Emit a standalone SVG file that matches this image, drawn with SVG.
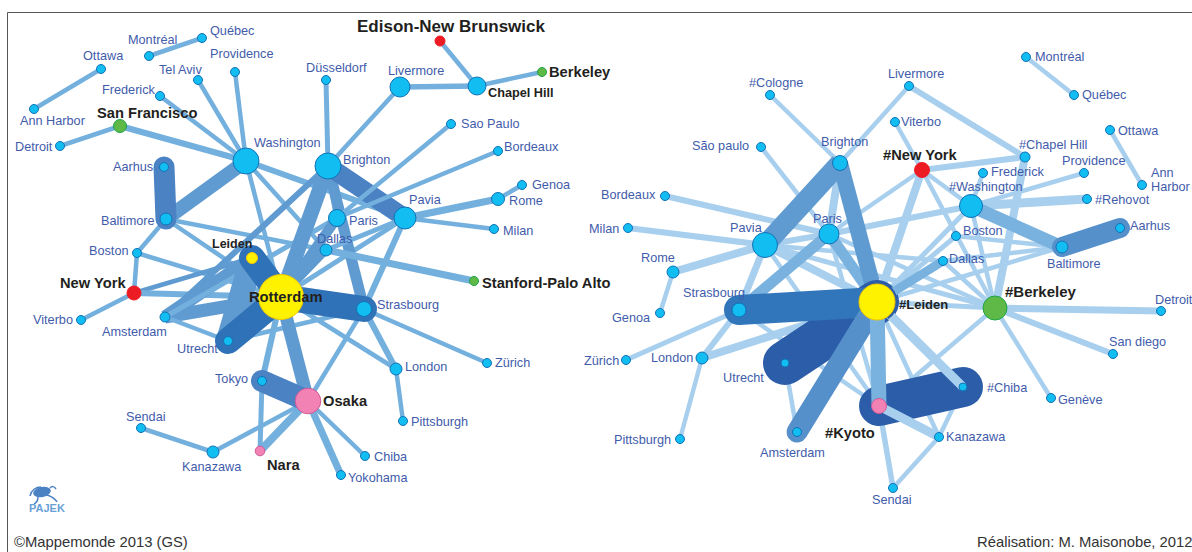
<svg xmlns="http://www.w3.org/2000/svg" width="1192" height="552" viewBox="0 0 1192 552">
<style>
text{font-family:"Liberation Sans",Arial,sans-serif}
.l{font-size:12.7px;fill:#3f5cab}
.b{font-weight:bold;fill:#231f20}
.c{font-size:14.8px;fill:#333}
line{stroke-linecap:butt}
.dk{stroke-linecap:round}
#edges-left line{stroke:#74b0de}
#edges-left .m{stroke:#5f9bd0}
#edges-left .s{stroke:#4a82c3}
#edges-left .dk{stroke:#3072b8}
#edges-right line{stroke:#a8d0ee}
#edges-right .n{stroke:#79b2de}
#edges-right .m{stroke:#5f9bd0}
#edges-right .s{stroke:#5690cb}
#edges-right .dk{stroke:#3175ba}
#edges-right .dk2{stroke:#2b5da9}
.city{fill:#12bdf2;stroke:#1272b6}
.y{fill:#fff200;stroke:#f3c800}
.r{fill:#ed1c24;stroke:#ed1c24}
.g{fill:#5fb946;stroke:#1ea34a}
.p{fill:#f282b4;stroke:#d05a9a}
</style>
<rect width="1192" height="552" fill="#fff"/>
<path d="M7.5 552V12.5H1192" fill="none" stroke="#555" stroke-width="1"/>
<g id="edges-left" stroke-width="4.5">
<line x1="149" y1="56" x2="202" y2="38"/>
<line x1="101" y1="69" x2="34" y2="109"/>
<line x1="60" y1="146" x2="120" y2="126"/>
<line x1="120" y1="126" x2="246" y2="161" stroke-width="6"/>
<line x1="160" y1="96" x2="246" y2="161"/>
<line x1="198" y1="80" x2="246" y2="161"/>
<line x1="235" y1="72" x2="246" y2="161"/>
<line x1="246" y1="161" x2="281" y2="297"/>
<line x1="246" y1="161" x2="405" y2="218" stroke-width="6"/>
<line x1="246" y1="161" x2="326" y2="250"/>
<line x1="246" y1="161" x2="166" y2="219" class="m" stroke-width="14"/>
<line x1="166" y1="219" x2="137" y2="253"/>
<line x1="166" y1="219" x2="326" y2="250"/>
<line x1="166" y1="219" x2="281" y2="297"/>
<line x1="137" y1="253" x2="134" y2="293"/>
<line x1="137" y1="253" x2="281" y2="297"/>
<line x1="134" y1="293" x2="81" y2="320"/>
<line x1="134" y1="293" x2="252" y2="258" class="m"/>
<line x1="134" y1="293" x2="281" y2="297" stroke-width="6"/>
<line x1="165" y1="317" x2="328" y2="166" class="m" stroke-width="6"/>
<line x1="165" y1="317" x2="252" y2="258" class="m" stroke-width="13"/>
<line x1="165" y1="317" x2="281" y2="297" class="m" stroke-width="13"/>
<line x1="165" y1="317" x2="228" y2="341"/>
<line x1="165" y1="317" x2="337" y2="218" stroke-width="5"/>
<line x1="252" y1="258" x2="228" y2="341" class="m" stroke-width="24"/>
<line x1="228" y1="341" x2="364" y2="309"/>
<line x1="281" y1="297" x2="328" y2="166" class="m" stroke-width="15"/>
<line x1="281" y1="297" x2="337" y2="218" class="m" stroke-width="10"/>
<line x1="281" y1="297" x2="326" y2="250" class="m" stroke-width="8"/>
<line x1="281" y1="297" x2="405" y2="218" stroke-width="5"/>
<line x1="281" y1="297" x2="396" y2="369"/>
<line x1="281" y1="297" x2="262" y2="381" stroke-width="6"/>
<line x1="281" y1="297" x2="308" y2="401" class="m" stroke-width="13"/>
<line x1="328" y1="166" x2="400" y2="87"/>
<line x1="328" y1="166" x2="326" y2="80" stroke-width="5"/>
<line x1="328" y1="166" x2="337" y2="218" stroke-width="6"/>
<line x1="328" y1="166" x2="364" y2="309" class="m" stroke-width="11"/>
<line x1="328" y1="166" x2="405" y2="218" class="s" stroke-width="19"/>
<line x1="400" y1="87" x2="477" y2="86" stroke-width="5.5"/>
<line x1="440" y1="41" x2="477" y2="86"/>
<line x1="477" y1="86" x2="542" y2="72" stroke-width="4.5"/>
<line x1="337" y1="218" x2="451" y2="124"/>
<line x1="337" y1="218" x2="498" y2="151"/>
<line x1="326" y1="250" x2="405" y2="218" stroke-width="5"/>
<line x1="326" y1="250" x2="474" y2="281" stroke-width="7"/>
<line x1="405" y1="218" x2="498" y2="199" stroke-width="7"/>
<line x1="405" y1="218" x2="494" y2="229"/>
<line x1="498" y1="199" x2="522" y2="185"/>
<line x1="405" y1="218" x2="364" y2="309" stroke-width="6"/>
<line x1="364" y1="309" x2="308" y2="401"/>
<line x1="364" y1="309" x2="396" y2="369" stroke-width="6"/>
<line x1="364" y1="309" x2="487" y2="363"/>
<line x1="396" y1="369" x2="403" y2="421"/>
<line x1="262" y1="381" x2="260" y2="451" stroke-width="5"/>
<line x1="308" y1="401" x2="260" y2="451" stroke-width="8"/>
<line x1="308" y1="401" x2="213" y2="452"/>
<line x1="308" y1="401" x2="365" y2="456"/>
<line x1="308" y1="401" x2="341" y2="475" stroke-width="7"/>
<line x1="141" y1="428" x2="213" y2="452"/>
<line x1="164" y1="167" x2="166" y2="219" class="s" stroke-width="21" style="stroke-linecap:round"/>
<line x1="262" y1="381" x2="308" y2="401" class="s" stroke-width="22" style="stroke-linecap:round"/>
<line x1="252" y1="258" x2="281" y2="297" class="dk" stroke-width="26"/>
<line x1="228" y1="341" x2="281" y2="297" class="dk" stroke-width="26"/>
<line x1="281" y1="297" x2="364" y2="309" class="dk" stroke-width="26"/>
</g>
<g id="edges-right" stroke-width="4.5">
<line x1="1026" y1="57" x2="1074" y2="95"/>
<line x1="1110" y1="130" x2="1142" y2="185"/>
<line x1="909" y1="86" x2="840" y2="163"/>
<line x1="909" y1="86" x2="1025" y2="157" stroke-width="6"/>
<line x1="895" y1="122" x2="922" y2="170"/>
<line x1="770" y1="95" x2="840" y2="163"/>
<line x1="761" y1="147" x2="829" y2="234"/>
<line x1="922" y1="170" x2="1025" y2="157" stroke-width="6"/>
<line x1="922" y1="170" x2="829" y2="234"/>
<line x1="922" y1="170" x2="877" y2="302" stroke-width="8"/>
<line x1="922" y1="170" x2="971" y2="206"/>
<line x1="922" y1="170" x2="995" y2="308"/>
<line x1="1025" y1="157" x2="995" y2="308" stroke-width="8"/>
<line x1="983" y1="173" x2="971" y2="206"/>
<line x1="971" y1="206" x2="1084" y2="173"/>
<line x1="971" y1="206" x2="1087" y2="199" stroke-width="9"/>
<line x1="971" y1="206" x2="829" y2="234" stroke-width="6"/>
<line x1="971" y1="206" x2="877" y2="302" stroke-width="5"/>
<line x1="971" y1="206" x2="995" y2="308"/>
<line x1="956" y1="236" x2="1062" y2="247"/>
<line x1="956" y1="236" x2="877" y2="302" stroke-width="5"/>
<line x1="943" y1="261" x2="1062" y2="247"/>
<line x1="943" y1="261" x2="995" y2="308"/>
<line x1="765" y1="245" x2="943" y2="261"/>
<line x1="877" y1="302" x2="1062" y2="247"/>
<line x1="665" y1="196" x2="829" y2="234" stroke-width="6"/>
<line x1="628" y1="228" x2="765" y2="245" stroke-width="6"/>
<line x1="673" y1="272" x2="765" y2="245" stroke-width="8"/>
<line x1="673" y1="272" x2="660" y2="313"/>
<line x1="765" y1="245" x2="829" y2="234" stroke-width="6"/>
<line x1="765" y1="245" x2="877" y2="302" stroke-width="8"/>
<line x1="765" y1="245" x2="739" y2="310" stroke-width="7"/>
<line x1="765" y1="245" x2="879" y2="406"/>
<line x1="765" y1="245" x2="995" y2="308" stroke-width="5"/>
<line x1="829" y1="234" x2="995" y2="308"/>
<line x1="829" y1="234" x2="879" y2="406"/>
<line x1="840" y1="163" x2="829" y2="234" stroke-width="8"/>
<line x1="739" y1="310" x2="626" y2="360" stroke-width="5"/>
<line x1="739" y1="310" x2="702" y2="358" stroke-width="6"/>
<line x1="739" y1="310" x2="879" y2="406"/>
<line x1="702" y1="358" x2="680" y2="439"/>
<line x1="702" y1="358" x2="877" y2="302" stroke-width="8"/>
<line x1="785" y1="363" x2="797" y2="432"/>
<line x1="877" y1="302" x2="995" y2="308" stroke-width="5"/>
<line x1="995" y1="308" x2="1161" y2="311" stroke-width="7"/>
<line x1="995" y1="308" x2="1113" y2="354" stroke-width="6"/>
<line x1="995" y1="308" x2="1051" y2="398"/>
<line x1="995" y1="308" x2="905" y2="385"/>
<line x1="877" y1="302" x2="939" y2="437"/>
<line x1="963" y1="387" x2="939" y2="437"/>
<line x1="879" y1="406" x2="893" y2="488" stroke-width="5.5"/>
<line x1="939" y1="437" x2="893" y2="488"/>
<line x1="739" y1="310" x2="829" y2="234" class="n" stroke-width="11"/>
<line x1="829" y1="234" x2="877" y2="302" class="n" stroke-width="11"/>
<line x1="971" y1="206" x2="1062" y2="247" class="n" stroke-width="13"/>
<line x1="765" y1="245" x2="840" y2="163" class="m" stroke-width="20"/>
<line x1="840" y1="163" x2="877" y2="302" class="m" stroke-width="16"/>
<line x1="1062" y1="247" x2="1120" y2="228" class="s" stroke-width="20" style="stroke-linecap:round"/>
<line x1="785" y1="363" x2="877" y2="302" class="dk2" stroke-width="44" style="stroke-linecap:round"/>
<line x1="879" y1="406" x2="963" y2="387" class="dk2" stroke-width="40" style="stroke-linecap:round"/>
<line x1="739" y1="310" x2="877" y2="302" class="dk" stroke-width="30"/>
<line x1="877" y1="302" x2="797" y2="432" class="s" stroke-width="21" style="stroke-linecap:round"/>
<line x1="877" y1="302" x2="879" y2="406" class="n" stroke-width="15"/>
<line x1="943" y1="261" x2="877" y2="302" class="n" stroke-width="9"/>
<line x1="877" y1="302" x2="963" y2="387" stroke-width="9"/>
<line x1="879" y1="406" x2="939" y2="437" stroke-width="9"/>
</g>
<g id="left-nodes">
<g id="l-quebec"><circle class="city" cx="202" cy="38" r="4.5"/><text class="l" x="210" y="35">Québec</text></g>
<g id="l-montreal"><circle class="city" cx="149" cy="56" r="4.5"/><text class="l" x="128" y="44">Montréal</text></g>
<g id="l-ottawa"><circle class="city" cx="101" cy="69" r="4.5"/><text class="l" x="83" y="60">Ottawa</text></g>
<g id="l-annharbor"><circle class="city" cx="34" cy="109" r="4.5"/><text class="l" x="20" y="125">Ann Harbor</text></g>
<g id="l-telaviv"><circle class="city" cx="198" cy="80" r="4.5"/><text class="l" x="159" y="74">Tel Aviv</text></g>
<g id="l-providence"><circle class="city" cx="235" cy="72" r="4.5"/><text class="l" x="210" y="58">Providence</text></g>
<g id="l-frederick"><circle class="city" cx="160" cy="96" r="4.5"/><text class="l" x="102" y="94">Frederick</text></g>
<g id="l-sanfrancisco"><circle class="g" cx="120" cy="126" r="6.5"/><text class="b" x="97" y="118" font-size="14.7">San Francisco</text></g>
<g id="l-detroit"><circle class="city" cx="60" cy="146" r="4.5"/><text class="l" x="15" y="151">Detroit</text></g>
<g id="l-washington"><circle class="city" cx="246" cy="161" r="13"/><text class="l" x="254" y="147">Washington</text></g>
<g id="l-aarhus"><circle class="city" cx="164" cy="167" r="4.5"/><text class="l" x="113" y="171">Aarhus</text></g>
<g id="l-baltimore"><circle class="city" cx="166" cy="219" r="6"/><text class="l" x="101" y="225">Baltimore</text></g>
<g id="l-boston"><circle class="city" cx="137" cy="253" r="4.5"/><text class="l" x="89" y="255">Boston</text></g>
<g id="l-newyork"><circle class="r" cx="134" cy="293" r="7"/><text class="b" x="60" y="288" font-size="14.7">New York</text></g>
<g id="l-viterbo"><circle class="city" cx="81" cy="320" r="4.5"/><text class="l" x="33" y="324">Viterbo</text></g>
<g id="l-amsterdam"><circle class="city" cx="165" cy="317" r="5"/><text class="l" x="102" y="336">Amsterdam</text></g>
<g id="l-utrecht"><circle class="city" cx="228" cy="341" r="4.5"/><text class="l" x="177" y="353">Utrecht</text></g>
<g id="l-tokyo"><circle class="city" cx="262" cy="381" r="4.5"/><text class="l" x="215" y="383">Tokyo</text></g>
<g id="l-sendai"><circle class="city" cx="141" cy="428" r="4.5"/><text class="l" x="126" y="421">Sendai</text></g>
<g id="l-kanazawa"><circle class="city" cx="213" cy="452" r="6"/><text class="l" x="182" y="471">Kanazawa</text></g>
<g id="l-nara"><circle class="p" cx="260" cy="451" r="4.8"/><text class="b" x="267" y="470" font-size="14.7">Nara</text></g>
<g id="l-osaka"><circle class="p" cx="308" cy="401" r="12.8"/><text class="b" x="323" y="406" font-size="14.7">Osaka</text></g>
<g id="l-chiba"><circle class="city" cx="365" cy="456" r="4.5"/><text class="l" x="374" y="461">Chiba</text></g>
<g id="l-yokohama"><circle class="city" cx="341" cy="475" r="4.5"/><text class="l" x="348" y="482">Yokohama</text></g>
<g id="l-leiden"><circle class="y" cx="252" cy="258" r="5.5"/><text class="b" x="212" y="248" font-size="12.5">Leiden</text></g>
<g id="l-rotterdam"><circle class="y" cx="281" cy="297" r="22.5"/><text class="b" x="249" y="302" font-size="14.7">Rotterdam</text></g>
<g id="l-dallas"><circle class="city" cx="326" cy="250" r="6"/><text class="l" x="317" y="243">Dallas</text></g>
<g id="l-paris"><circle class="city" cx="337" cy="218" r="8.5"/><text class="l" x="349" y="225">Paris</text></g>
<g id="l-brighton"><circle class="city" cx="328" cy="166" r="13"/><text class="l" x="343" y="164">Brighton</text></g>
<g id="l-pavia"><circle class="city" cx="405" cy="218" r="11"/><text class="l" x="409" y="204">Pavia</text></g>
<g id="l-dusseldorf"><circle class="city" cx="326" cy="80" r="4.5"/><text class="l" x="306" y="72">Düsseldorf</text></g>
<g id="l-livermore"><circle class="city" cx="400" cy="87" r="10"/><text class="l" x="388" y="75">Livermore</text></g>
<g id="l-chapelhill"><circle class="city" cx="477" cy="86" r="9"/><text class="b" x="488" y="97" font-size="12.7">Chapel Hill</text></g>
<g id="l-edison"><circle class="r" cx="440" cy="41" r="5"/><text class="b" x="357" y="32" font-size="17">Edison-New Brunswick</text></g>
<g id="l-berkeley"><circle class="g" cx="542" cy="72" r="4.5"/><text class="b" x="549" y="77" font-size="14.7">Berkeley</text></g>
<g id="l-saopaulo"><circle class="city" cx="451" cy="124" r="4.5"/><text class="l" x="461" y="128">Sao Paulo</text></g>
<g id="l-bordeaux"><circle class="city" cx="498" cy="151" r="4.5"/><text class="l" x="504" y="151">Bordeaux</text></g>
<g id="l-rome"><circle class="city" cx="498" cy="199" r="6.5"/><text class="l" x="509" y="205">Rome</text></g>
<g id="l-genoa"><circle class="city" cx="522" cy="185" r="4.5"/><text class="l" x="532" y="189">Genoa</text></g>
<g id="l-milan"><circle class="city" cx="494" cy="229" r="4.5"/><text class="l" x="503" y="235">Milan</text></g>
<g id="l-stanford"><circle class="g" cx="474" cy="281" r="4.5"/><text class="b" x="482" y="288" font-size="14.7">Stanford-Palo Alto</text></g>
<g id="l-strasbourg"><circle class="city" cx="364" cy="309" r="7.5"/><text class="l" x="377" y="309">Strasbourg</text></g>
<g id="l-london"><circle class="city" cx="396" cy="369" r="6"/><text class="l" x="405" y="371">London</text></g>
<g id="l-pittsburgh"><circle class="city" cx="403" cy="421" r="4.5"/><text class="l" x="411" y="426">Pittsburgh</text></g>
<g id="l-zurich"><circle class="city" cx="487" cy="363" r="4.5"/><text class="l" x="495" y="367">Zürich</text></g>
</g>
<g id="right-nodes">
<g id="r-montreal"><circle class="city" cx="1026" cy="57" r="4.5"/><text class="l" x="1035" y="61">Montréal</text></g>
<g id="r-quebec"><circle class="city" cx="1074" cy="95" r="4.5"/><text class="l" x="1082" y="99">Québec</text></g>
<g id="r-livermore"><circle class="city" cx="909" cy="86" r="4.5"/><text class="l" x="888" y="78">Livermore</text></g>
<g id="r-viterbo"><circle class="city" cx="895" cy="122" r="4.5"/><text class="l" x="901" y="126">Viterbo</text></g>
<g id="r-cologne"><circle class="city" cx="770" cy="95" r="4.5"/><text class="l" x="749" y="87">#Cologne</text></g>
<g id="r-saopaulo"><circle class="city" cx="761" cy="147" r="4.5"/><text class="l" x="692" y="150">São paulo</text></g>
<g id="r-brighton"><circle class="city" cx="840" cy="163" r="7.5"/><text class="l" x="821" y="146">Brighton</text></g>
<g id="r-newyork"><circle class="r" cx="922" cy="170" r="7.5"/><text class="b" x="883" y="160" font-size="14.7">#New York</text></g>
<g id="r-chapelhill"><circle class="city" cx="1025" cy="157" r="5"/><text class="l" x="1019" y="149">#Chapel Hill</text></g>
<g id="r-frederick"><circle class="city" cx="983" cy="173" r="4.5"/><text class="l" x="991" y="176">Frederick</text></g>
<g id="r-providence"><circle class="city" cx="1084" cy="173" r="4.5"/><text class="l" x="1062" y="165">Providence</text></g>
<g id="r-ottawa"><circle class="city" cx="1110" cy="130" r="4.5"/><text class="l" x="1118" y="135">Ottawa</text></g>
<g id="r-annharbor"><circle class="city" cx="1142" cy="185" r="4.5"/><text class="l" x="1151" y="177">Ann</text><text class="l" x="1151" y="191">Harbor</text></g>
<g id="r-rehovot"><circle class="city" cx="1087" cy="199" r="4.5"/><text class="l" x="1095" y="204">#Rehovot</text></g>
<g id="r-washington"><circle class="city" cx="971" cy="206" r="11.5"/><text class="l" x="949" y="191">#Washington</text></g>
<g id="r-aarhus"><circle class="city" cx="1120" cy="228" r="4.5"/><text class="l" x="1130" y="230">Aarhus</text></g>
<g id="r-baltimore"><circle class="city" cx="1062" cy="247" r="6"/><text class="l" x="1047" y="268">Baltimore</text></g>
<g id="r-boston"><circle class="city" cx="956" cy="236" r="4.5"/><text class="l" x="963" y="235">Boston</text></g>
<g id="r-dallas"><circle class="city" cx="943" cy="261" r="4.5"/><text class="l" x="949" y="263">Dallas</text></g>
<g id="r-leiden"><path d="M887 287A18 18 0 0 1 887 317" fill="none" stroke="#2b5da9" stroke-width="5"/><circle class="y" cx="877" cy="302" r="18"/><text class="b" x="899" y="309" font-size="13">#Leiden</text></g>
<g id="r-berkeley"><circle class="g" cx="995" cy="308" r="12"/><text class="b" x="1005" y="297" font-size="15">#Berkeley</text></g>
<g id="r-detroit"><circle class="city" cx="1161" cy="311" r="4.5"/><text class="l" x="1155" y="304">Detroit</text></g>
<g id="r-sandiego"><circle class="city" cx="1113" cy="354" r="4.5"/><text class="l" x="1109" y="346">San diego</text></g>
<g id="r-geneve"><circle class="city" cx="1051" cy="398" r="4.5"/><text class="l" x="1058" y="404">Genève</text></g>
<g id="r-chiba"><circle class="city" cx="963" cy="387" r="4"/><text class="l" x="987" y="392">#Chiba</text></g>
<g id="r-kanazawa"><circle class="city" cx="939" cy="437" r="4.5"/><text class="l" x="946" y="441">Kanazawa</text></g>
<g id="r-sendai"><circle class="city" cx="893" cy="488" r="4.5"/><text class="l" x="872" y="504">Sendai</text></g>
<g id="r-kyoto"><circle class="p" cx="879" cy="406" r="7.5"/><text class="b" x="825" y="438" font-size="14.7">#Kyoto</text></g>
<g id="r-amsterdam"><circle class="city" cx="797" cy="432" r="4.5"/><text class="l" x="760" y="457">Amsterdam</text></g>
<g id="r-utrecht"><circle class="city" cx="785" cy="363" r="4"/><text class="l" x="723" y="382">Utrecht</text></g>
<g id="r-london"><circle class="city" cx="702" cy="358" r="6"/><text class="l" x="651" y="362">London</text></g>
<g id="r-pittsburgh"><circle class="city" cx="680" cy="439" r="4.5"/><text class="l" x="614" y="444">Pittsburgh</text></g>
<g id="r-zurich"><circle class="city" cx="626" cy="360" r="4.5"/><text class="l" x="584" y="365">Zürich</text></g>
<g id="r-genoa"><circle class="city" cx="660" cy="313" r="4.5"/><text class="l" x="612" y="322">Genoa</text></g>
<g id="r-rome"><circle class="city" cx="673" cy="272" r="6"/><text class="l" x="641" y="262">Rome</text></g>
<g id="r-strasbourg"><circle class="city" cx="739" cy="310" r="7"/><text class="l" x="683" y="297">Strasbourg</text></g>
<g id="r-pavia"><circle class="city" cx="765" cy="245" r="12.5"/><text class="l" x="730" y="232">Pavia</text></g>
<g id="r-paris"><circle class="city" cx="829" cy="234" r="10"/><text class="l" x="813" y="223">Paris</text></g>
<g id="r-bordeaux"><circle class="city" cx="665" cy="196" r="4.5"/><text class="l" x="601" y="199">Bordeaux</text></g>
<g id="r-milan"><circle class="city" cx="628" cy="228" r="4.5"/><text class="l" x="589" y="233">Milan</text></g>
</g>
<g id="pajek-logo">
<ellipse cx="42" cy="492" rx="9" ry="5" fill="#4a82c3" transform="rotate(-12 42 492)"/>
<path d="M30 496C31 490 36 487 41 487M38 497C38 501 36 503 34 504M47 495C50 496 55 498 57 502M50 488C52 486 54 486 56 489" fill="none" stroke="#4a82c3" stroke-width="1.5"/>
<text x="29" y="512" font-size="11" font-weight="bold" fill="#6a9fd6">PAJEK</text>
</g>
<text class="c" x="14" y="547">©Mappemonde 2013 (GS)</text>
<text class="c" x="977" y="547">Réalisation: M. Maisonobe, 2012</text>
</svg>
